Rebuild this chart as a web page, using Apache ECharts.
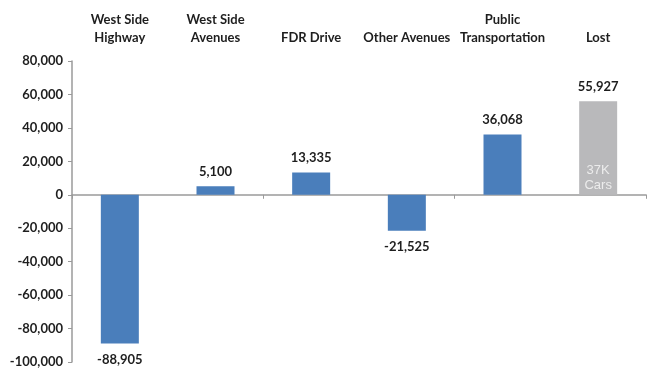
<!DOCTYPE html>
<html>
<head>
<meta charset="utf-8">
<script src="https://cdn.jsdelivr.net/npm/echarts@6/dist/echarts.min.js"></script>
<style>html,body{margin:0;padding:0;background:#fff}#c{width:649px;height:369px}</style>
</head>
<body>
<div id="c"></div>
<script>
var categories = ['West Side\nHighway', 'West Side\nAvenues', 'FDR Drive', 'Other Avenues', 'Public\nTransportation', 'Lost'];
var values = [-88905, 5100, 13335, -21525, 36068, 55927];
var lostNote = '37K\nCars';
var lostIndex = 5;
var yMin = -100000, yMax = 80000, yStep = 20000;

var blue = '#4a7ebb', gray = '#b9b9bb';
var fmt = function (v) { return Number(v).toLocaleString('en-US'); };
var mainData = values.map(function (v, i) {
  return {
    value: v,
    itemStyle: { color: i === lostIndex ? gray : blue },
    label: { position: v >= 0 ? 'top' : 'bottom', distance: v >= 0 ? 8 : 10 }
  };
});
var noteData = values.map(function (v, i) { return i === lostIndex ? v : null; });

var chart = echarts.init(document.getElementById('c'));
chart.setOption({
  animation: false,
  grid: { left: 72, right: 3, top: 61, bottom: 7, containLabel: false },
  xAxis: [{
    type: 'category', data: categories, position: 'bottom',
    axisLine: { onZero: true, lineStyle: { color: '#9a9a9a', width: 1.5 } },
    axisTick: { show: true, length: 4, inside: false, lineStyle: { color: '#9a9a9a' } },
    axisLabel: { show: false }
  }, {
    type: 'category', data: categories, position: 'top',
    axisLine: { show: false }, axisTick: { show: false },
    axisLabel: { margin: 14, fontFamily: 'Lato', fontWeight: 'bold', fontSize: 13, lineHeight: 18, color: '#1e1e1e', interval: 0 }
  }],
  yAxis: {
    type: 'value', min: yMin, max: yMax, interval: yStep,
    splitLine: { show: false },
    axisLine: { show: true, lineStyle: { color: '#9a9a9a', width: 1.5 } },
    axisTick: { show: true, length: 4, lineStyle: { color: '#9a9a9a' } },
    axisLabel: { margin: 9, fontFamily: 'Lato', fontWeight: 'bold', fontSize: 13, color: '#1e1e1e', formatter: fmt }
  },
  series: [{
    type: 'bar', xAxisIndex: 0, data: mainData, barWidth: 38,
    label: { show: true, fontFamily: 'Lato', fontWeight: 'bold', fontSize: 13, color: '#1e1e1e',
      formatter: function (p) { return fmt(p.value); } }
  }, {
    type: 'bar', xAxisIndex: 0, data: noteData, barWidth: 38, barGap: '-100%',
    itemStyle: { color: 'rgba(0,0,0,0)' },
    label: { show: true, position: 'insideBottom', distance: 2, fontFamily: 'Liberation Sans', fontSize: 13, lineHeight: 15, color: '#ececec',
      formatter: function () { return lostNote; } }
  }]
});
</script>
</body>
</html>
